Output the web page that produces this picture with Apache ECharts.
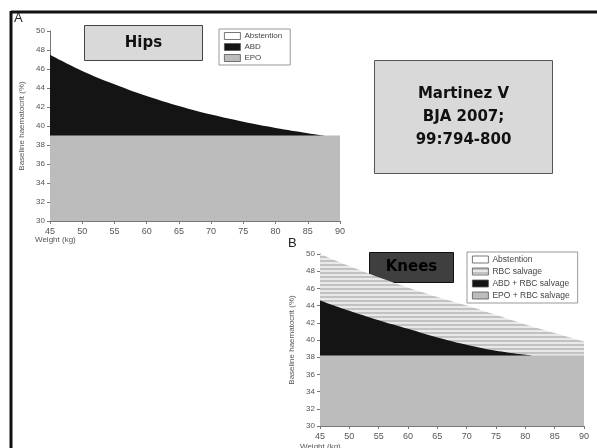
<!DOCTYPE html>
<html><head><meta charset="utf-8">
<script src="https://cdn.jsdelivr.net/npm/echarts@6/dist/echarts.min.js"></script>
<style>html,body{margin:0;padding:0;background:#fff}#c{width:597px;height:448px}</style>
</head><body><div id="c"></div>
<script>
// ---- Data: panel A (Hips) ----
const weightTicks = [45,50,55,60,65,70,75,80,85,90];
const hctTicks = [30,32,34,36,38,40,42,44,46,48,50];
const weightsA = [45,50,55,60,65,70,75,80,85,87.5];
const abdA = [47.5,45.8,44.4,43.15,42.1,41.2,40.45,39.8,39.25,39.0];
const epoWeightsA = [45,90];
const epoA = [39,39];
// ---- Data: panel B (Knees) ----
const weightsB = [45,50,55,60,65,70,75,80,85,90];
const rbcB = [50,48.6,47.3,46.1,45.0,44.0,42.9,41.8,40.8,39.8];
const abdWeightsB = [45,50,55,60,65,70,75,81];
const abdB = [44.6,43.4,42.3,41.3,40.3,39.45,38.75,38.2];
const epoWeightsB = [45,90];
const epoB = [38.2,38.2];

const zip = (xs, ys) => xs.map((x,i)=>[x, ys[i]]);

// striped pattern
const pc = document.createElement('canvas');
pc.width = 4; pc.height = 4;
const pctx = pc.getContext('2d');
pctx.fillStyle = '#e9e9e9'; pctx.fillRect(0,0,4,4);
pctx.fillStyle = '#c2c2c2'; pctx.fillRect(0,0,4,2);
const stripe = {image: pc, repeat: 'repeat'};

const GRAY = '#bcbcbc', BLACK = '#141414';
const FONT = 'Liberation Sans';

function xAx(gi){
  return {type:'value', gridIndex:gi, min:45, max:90, interval:5,
    axisLine:{lineStyle:{color:'#777',width:1}},
    axisTick:{length:3,lineStyle:{color:'#777'}},
    axisLabel:{fontSize:9, color:'#555', fontFamily:FONT, margin:6},
    splitLine:{show:false}};
}
function yAx(gi){
  return {type:'value', gridIndex:gi, min:30, max:50, interval:2,
    name:'Baseline haematocrit (%)', nameLocation:'middle', nameGap:24,
    nameTextStyle:{fontSize:8, color:'#555', fontFamily:FONT},
    axisLine:{show:true, lineStyle:{color:'#777',width:1}},
    axisTick:{show:true,length:3,lineStyle:{color:'#777'}},
    axisLabel:{fontSize:8, color:'#555', fontFamily:FONT, margin:5},
    splitLine:{show:false}};
}
function area(name, gi, data, color, smooth){
  return {type:'line', name, xAxisIndex:gi, yAxisIndex:gi, data,
    smooth: smooth ? 0.4 : false,
    symbol:'none', lineStyle:{width:0}, areaStyle:{color, opacity:1}, itemStyle:{color},
    silent:true, animation:false};
}

const chart = echarts.init(document.getElementById('c'), null, {renderer:'canvas'});
const legendBase = {orient:'vertical', icon:'rect', itemWidth:16, itemHeight:7, itemGap:3,
  borderColor:'#999', borderWidth:1, backgroundColor:'#fff', padding:[3,8,3,5],
  textStyle:{fontSize:8, color:'#444', fontFamily:FONT, padding:[0,0,0,-1]}, selectedMode:false};
const bordered = c => ({color:c, borderColor:'#555', borderWidth:0.8});

chart.setOption({
  animation:false,
  grid:[{left:50, top:31, width:290, height:190},{left:320, top:254, width:264, height:172}],
  xAxis:[xAx(0), xAx(1)],
  yAxis:[yAx(0), yAx(1)],
  legend:[
    Object.assign({}, legendBase, {left:219, top:29, data:[
      {name:'Abstention', itemStyle:bordered('#fff')},
      {name:'ABD', itemStyle:bordered(BLACK)},
      {name:'EPO', itemStyle:bordered(GRAY)}]}),
    Object.assign({}, legendBase, {left:467, top:252, textStyle:{fontSize:8.5, color:'#444', fontFamily:FONT, padding:[0,0,0,-1]}, data:[
      {name:'Abstention ', itemStyle:bordered('#fff')},
      {name:'RBC salvage', itemStyle:bordered(stripe)},
      {name:'ABD + RBC salvage', itemStyle:bordered(BLACK)},
      {name:'EPO + RBC salvage', itemStyle:bordered(GRAY)}]})
  ],
  series:[
    area('Abstention',0,[],'#fff'),
    area('ABD',0,zip(weightsA,abdA),BLACK,true),
    area('EPO',0,zip(epoWeightsA,epoA),GRAY),
    area('Abstention ',1,[],'#fff'),
    area('RBC salvage',1,zip(weightsB,rbcB),stripe,true),
    area('ABD + RBC salvage',1,zip(abdWeightsB,abdB),BLACK,true),
    area('EPO + RBC salvage',1,zip(epoWeightsB,epoB),GRAY)
  ],
  graphic:[
    {type:'line', shape:{x1:11,y1:12,x2:597,y2:12}, style:{stroke:'#111',lineWidth:3}},
    {type:'line', shape:{x1:11,y1:11,x2:11,y2:448}, style:{stroke:'#111',lineWidth:3}},
    {type:'text', left:14, top:12, style:{text:'A', fontSize:13, fill:'#222', fontFamily:FONT}},
    {type:'text', left:288, top:237, style:{text:'B', fontSize:13, fill:'#222', fontFamily:FONT}},
    {type:'text', left:35, top:236, style:{text:'Weight (kg)', fontSize:8, fill:'#555', fontFamily:FONT}},
    {type:'text', left:300, top:443, style:{text:'Weight (kg)', fontSize:8, fill:'#555', fontFamily:FONT}},
    {type:'group', left:84, top:25, children:[
      {type:'rect', shape:{x:0,y:0,width:118,height:35}, style:{fill:'#d9d9d9', stroke:'#444', lineWidth:1}},
      {type:'text', x:59, y:17.5, style:{text:'Hips', fontSize:15, fontWeight:'bold', fill:'#111', fontFamily:'DejaVu Sans', align:'center', verticalAlign:'middle'}}
    ]},
    {type:'group', left:369, top:252, children:[
      {type:'rect', shape:{x:0,y:0,width:84,height:30}, style:{fill:'#3f3f3f', stroke:'#111', lineWidth:1}},
      {type:'text', x:42, y:15, style:{text:'Knees', fontSize:15, fontWeight:'bold', fill:'#000', fontFamily:'DejaVu Sans', align:'center', verticalAlign:'middle'}}
    ]},
    {type:'group', left:374, top:60, children:[
      {type:'rect', shape:{x:0,y:0,width:178,height:113}, style:{fill:'#d9d9d9', stroke:'#555', lineWidth:1}},
      {type:'text', x:89, y:57, style:{text:'Martinez V\nBJA 2007;\n99:794-800', fontSize:15, lineHeight:23, fontWeight:'bold', fill:'#111', fontFamily:'DejaVu Sans', align:'center', verticalAlign:'middle'}}
    ]}
  ]
});
</script></body></html>
